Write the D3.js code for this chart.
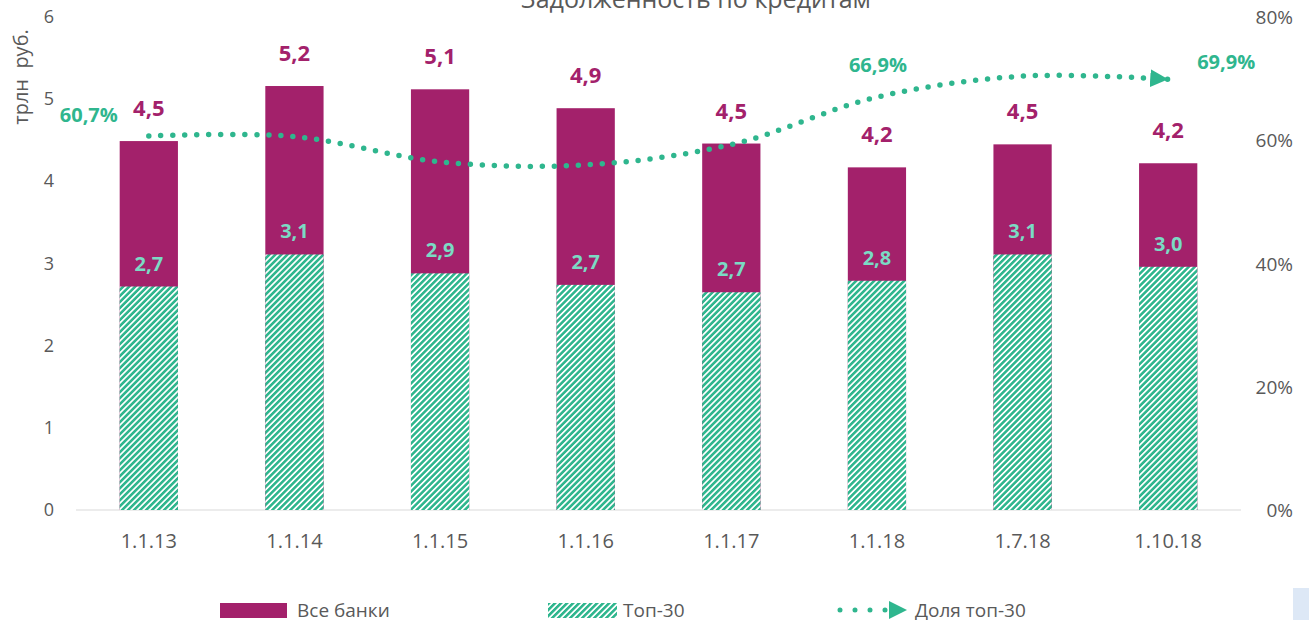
<!DOCTYPE html>
<meta charset="utf-8">
<script src="https://d3js.org/d3.v7.min.js"></script>
<style>
  body { margin: 0; background: #fff; }
  text { font-family: "Open Sans", sans-serif; }
</style>
<div id="my_dataviz"></div>
<script>

    // data
    var dates = ["1.1.13", "1.1.14", "1.1.15", "1.1.16", "1.1.17", "1.1.18", "1.7.18", "1.10.18"];
    var allBanks = [4.49, 5.16, 5.12, 4.89, 4.46, 4.17, 4.45, 4.22];
    var allBanksLabels = ["4,5", "5,2", "5,1", "4,9", "4,5", "4,2", "4,5", "4,2"];
    var top30 = [2.72, 3.11, 2.88, 2.74, 2.65, 2.79, 3.11, 2.96];
    var top30Labels = ["2,7", "3,1", "2,9", "2,7", "2,7", "2,8", "3,1", "3,0"];
    var share = [60.7, 60.6, 56.5, 56.0, 59.3, 67.0, 70.4, 69.9];
    var shareLabels = { 0: "60,7%", 5: "66,9%", 7: "69,9%" };
    var leftTicks = [0, 1, 2, 3, 4, 5, 6];
    var rightTicks = [0, 20, 40, 60, 80];

    var W = 1309, H = 620;
    var margin = { top: 17, right: 68, bottom: 110, left: 76 },
        width = W - margin.left - margin.right,
        height = H - margin.top - margin.bottom;

    var magenta = "#a3216b", teal = "#2fb68e", lightTeal = "#7bdac4", grey = "#595959";

    var root = d3.select("#my_dataviz")
        .append("svg")
        .attr("width", W)
        .attr("height", H);

    // hatch pattern for top-30
    var defs = root.append("defs");
    var pat = defs.append("pattern")
        .attr("id", "hatch")
        .attr("patternUnits", "userSpaceOnUse")
        .attr("width", 4.25).attr("height", 4.25)
        .attr("patternTransform", "rotate(45)");
    pat.append("rect").attr("width", 4.25).attr("height", 4.25).attr("fill", teal);
    pat.append("rect").attr("x", 0).attr("width", 1.7).attr("height", 4.25).attr("fill", "#fff");

    defs.append("marker")
        .attr("id", "arrow")
        .attr("viewBox", "0 0 10 10")
        .attr("refX", 10).attr("refY", 5)
        .attr("markerUnits", "userSpaceOnUse")
        .attr("markerWidth", 18).attr("markerHeight", 18)
        .attr("orient", "auto")
        .append("path")
        .attr("d", "M0,0 L10,5 L0,10 Z")
        .attr("fill", teal);

    var svg = root.append("g")
        .attr("transform", "translate(" + margin.left + "," + margin.top + ")");

    var x = d3.scaleBand().domain(dates).range([0, width]).paddingInner(0.6).paddingOuter(0.3);
    var y = d3.scaleLinear().domain([0, 6]).range([height, 0]);
    var y2 = d3.scaleLinear().domain([0, 80]).range([height, 0]);
    var cx = function (i) { return x(dates[i]) + x.bandwidth() / 2; };

    // left ticks
    svg.selectAll(".lt").data(leftTicks).enter().append("text")
        .attr("x", -22).attr("y", function (d) { return y(d) + 6; })
        .attr("text-anchor", "end").attr("font-size", 18).attr("fill", grey)
        .text(function (d) { return d; });

    // right ticks
    svg.selectAll(".rt").data(rightTicks).enter().append("text")
        .attr("x", width + 52).attr("y", function (d) { return y2(d) + 7; })
        .attr("text-anchor", "end").attr("font-size", 19).attr("fill", grey)
        .text(function (d) { return d + "%"; });

    // x labels
    svg.selectAll(".xl").data(dates).enter().append("text")
        .attr("x", function (d, i) { return cx(i); })
        .attr("y", height + 38)
        .attr("text-anchor", "middle").attr("font-size", 20).attr("fill", grey)
        .text(function (d) { return d; });

    // axis title
    root.append("text")
        .attr("transform", "translate(28,77) rotate(-90)")
        .attr("text-anchor", "middle").attr("font-size", 20).attr("fill", grey)
        .text("трлн\u00a0\u00a0руб.");

    // chart title (clipped at top, as in the source)
    root.append("text")
        .attr("x", 696).attr("y", 8)
        .attr("text-anchor", "middle").attr("font-size", 25).attr("fill", grey)
        .text("Задолженность по кредитам");

    // baseline
    svg.append("line")
        .attr("x1", 0).attr("x2", width)
        .attr("y1", height).attr("y2", height)
        .attr("stroke", "#d9d9d9").attr("stroke-width", 1);

    // bars: all banks
    svg.selectAll(".all").data(allBanks).enter().append("rect")
        .attr("x", function (d, i) { return x(dates[i]); })
        .attr("width", x.bandwidth())
        .attr("y", function (d) { return y(d); })
        .attr("height", function (d) { return height - y(d); })
        .attr("fill", magenta);

    // bars: top-30
    svg.selectAll(".top").data(top30).enter().append("rect")
        .attr("x", function (d, i) { return x(dates[i]); })
        .attr("width", x.bandwidth())
        .attr("y", function (d) { return y(d); })
        .attr("height", function (d) { return height - y(d); })
        .attr("fill", "url(#hatch)");

    // labels
    svg.selectAll(".allLab").data(allBanks).enter().append("text")
        .attr("x", function (d, i) { return cx(i); })
        .attr("y", function (d) { return y(d) - 25; })
        .attr("text-anchor", "middle").attr("font-size", 22).attr("font-weight", "bold")
        .attr("fill", magenta)
        .text(function (d, i) { return allBanksLabels[i]; });

    svg.selectAll(".topLab").data(top30).enter().append("text")
        .attr("x", function (d, i) { return cx(i); })
        .attr("y", function (d) { return y(d) - 16; })
        .attr("text-anchor", "middle").attr("font-size", 20).attr("font-weight", "bold")
        .attr("fill", lightTeal)
        .text(function (d, i) { return top30Labels[i]; });

    // share line
    var line = d3.line()
        .x(function (d, i) { return cx(i); })
        .y(function (d) { return y2(d); })
        .curve(d3.curveCatmullRom.alpha(0.5));

    svg.append("path")
        .datum(share)
        .attr("fill", "none")
        .attr("stroke", teal)
        .attr("stroke-width", 5.5)
        .attr("stroke-linecap", "round")
        .attr("stroke-dasharray", "0 12")
        .attr("marker-end", "url(#arrow)")
        .attr("d", line);

    var shareIdx = Object.keys(shareLabels).map(Number);
    var labDx = { 0: -60, 5: 1, 7: 58 }, labDy = { 0: -14, 5: -25, 7: -10 };
    svg.selectAll(".shLab").data(shareIdx).enter().append("text")
        .attr("x", function (i) { return cx(i) + labDx[i]; })
        .attr("y", function (i) { return y2(share[i]) + labDy[i]; })
        .attr("text-anchor", "middle").attr("font-size", 20).attr("font-weight", "bold")
        .attr("fill", teal)
        .text(function (i) { return shareLabels[i]; });

    // legend
    var lg = root.append("g");
    lg.append("rect").attr("x", 220).attr("y", 603).attr("width", 67).attr("height", 15).attr("fill", magenta);
    lg.append("text").attr("x", 297).attr("y", 617).attr("font-size", 19).attr("fill", grey).text("Все банки");
    lg.append("rect").attr("x", 548).attr("y", 603).attr("width", 69).attr("height", 15).attr("fill", "url(#hatch)");
    lg.append("text").attr("x", 623).attr("y", 617).attr("font-size", 19).attr("fill", grey).text("Топ-30");
    lg.append("line").attr("x1", 840).attr("x2", 907).attr("y1", 610).attr("y2", 610)
        .attr("stroke", teal).attr("stroke-width", 5).attr("stroke-linecap", "round")
        .attr("stroke-dasharray", "0 15").attr("marker-end", "url(#arrow)");
    lg.append("text").attr("x", 915).attr("y", 617).attr("font-size", 19).attr("fill", grey).text("Доля топ-30");

    // small light box bottom right
    root.append("rect").attr("x", 1293).attr("y", 588).attr("width", 16).attr("height", 32).attr("fill", "#dde8f6");

</script>
